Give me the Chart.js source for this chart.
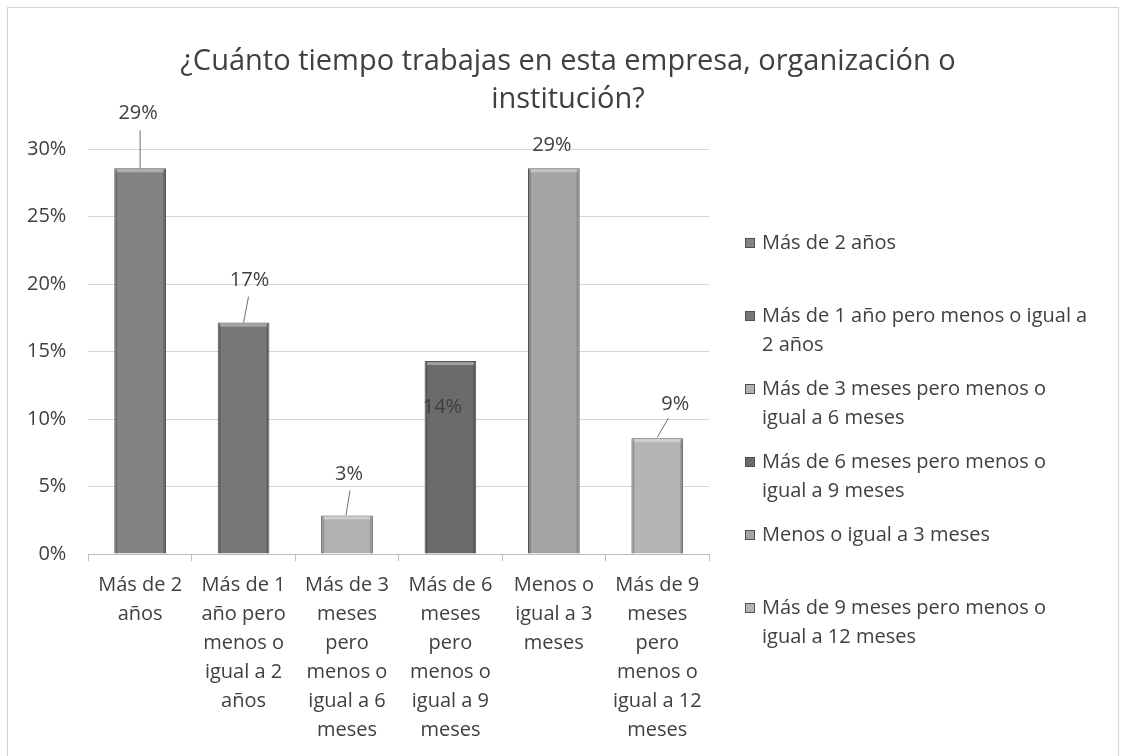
<!DOCTYPE html>
<html lang="es">
<head>
<meta charset="utf-8">
<title>¿Cuánto tiempo trabajas en esta empresa?</title>
<script src="https://cdn.jsdelivr.net/npm/chart.js@4/dist/chart.umd.min.js"></script>
<style>
  html, body { margin: 0; padding: 0; background: #ffffff; }
  #wrap { width: 1126px; height: 756px; }
</style>
</head>
<body>
<div id="wrap"><canvas id="chart" width="1126" height="756"></canvas></div>
<script>
// categories (axis labels, already wrapped like the original)
const categories = [
    ['Más de 2', 'años'],
    ['Más de 1', 'año pero', 'menos o', 'igual a 2', 'años'],
    ['Más de 3', 'meses', 'pero', 'menos o', 'igual a 6', 'meses'],
    ['Más de 6', 'meses', 'pero', 'menos o', 'igual a 9', 'meses'],
    ['Menos o', 'igual a 3', 'meses'],
    ['Más de 9', 'meses', 'pero', 'menos o', 'igual a 12', 'meses']
];

// legend entries, wrapped like the original legend
const legendNames = [
    ['Más de 2 años'],
    ['Más de 1 año pero menos o igual a', '2 años'],
    ['Más de 3 meses pero menos o', 'igual a 6 meses'],
    ['Más de 6 meses pero menos o', 'igual a 9 meses'],
    ['Menos o igual a 3 meses'],
    ['Más de 9 meses pero menos o', 'igual a 12 meses']
];

const titleLines = ['¿Cuánto tiempo trabajas en esta empresa, organización o', 'institución?'];

// share of respondents, in percent
const values = [28.57, 17.14, 2.86, 14.29, 28.57, 8.57];
const valueLabels = ['29%', '17%', '3%', '14%', '29%', '9%'];

const yMin = 0;
const yMax = 30;
const yStep = 5;

// grey shades of the scanned bars
const barColors = ['#838383', '#777777', '#b2b2b2', '#6b6b6b', '#a4a4a4', '#b4b4b4'];

// where each data label was dragged to, relative to the bar top centre
// lead: leader line start (relative) -> end (relative), null when none
const labelMoves = [
    { dx: -2, dy: -55, lead: [0, -38, 0, 0] },
    { dx: 6,  dy: -42, lead: [5, -26, 0, 0] },
    { dx: 2,  dy: -41, lead: [3, -25, -1, 0] },
    { dx: -8, dy: 46,  lead: null },
    { dx: -2, dy: -23, lead: null },
    { dx: 18, dy: -34, lead: [11, -20, 0, -1] }
];

const FONT = "'Open Sans', 'Noto Sans', sans-serif";
const TEXT = '#404040';

const frame = {
    id: 'frame',
    beforeDraw(chart) {
        const ctx = chart.ctx;
        ctx.save();
        ctx.fillStyle = '#ffffff';
        ctx.fillRect(0, 0, chart.width, chart.height);
        ctx.strokeStyle = '#d4d4d4';
        ctx.lineWidth = 1;
        ctx.strokeRect(7.5, 7.5, chart.width - 15, chart.height + 10);
        ctx.restore();
    }
};

// title centred on the whole chart, not just the plot
const wideTitle = {
    id: 'wideTitle',
    afterDraw(chart) {
        const ctx = chart.ctx;
        ctx.save();
        ctx.font = '29px ' + FONT;
        ctx.fillStyle = TEXT;
        ctx.textAlign = 'center';
        ctx.textBaseline = 'middle';
        titleLines.forEach((t, i) => ctx.fillText(t, chart.width / 2 + 5, 62 + i * 38));
        ctx.restore();
    }
};

// light bevel on the bar tops, like the Excel shape effect
const bevel = {
    id: 'bevel',
    afterDatasetsDraw(chart) {
        const ctx = chart.ctx;
        ctx.save();
        chart.getDatasetMeta(0).data.forEach(bar => {
            const half = bar.width / 2;
            ctx.fillStyle = 'rgba(255,255,255,0.35)';
            ctx.fillRect(bar.x - half + 2, bar.y + 1, bar.width - 4, 3);
            ctx.fillStyle = 'rgba(0,0,0,0.18)';
            ctx.fillRect(bar.x - half + 1, bar.y + 1, 2, bar.base - bar.y - 1);
            ctx.fillRect(bar.x + half - 3, bar.y + 1, 2, bar.base - bar.y - 1);
        });
        ctx.restore();
    }
};

const barLabels = {
    id: 'barLabels',
    afterDatasetsDraw(chart) {
        const ctx = chart.ctx;
        const meta = chart.getDatasetMeta(0);
        ctx.save();
        ctx.font = '20px ' + FONT;
        ctx.fillStyle = TEXT;
        ctx.textAlign = 'center';
        ctx.textBaseline = 'middle';
        meta.data.forEach((bar, i) => {
            const m = labelMoves[i];
            if (m.lead) {
                ctx.strokeStyle = '#707070';
                ctx.lineWidth = 1;
                ctx.beginPath();
                ctx.moveTo(bar.x + m.lead[0], bar.y + m.lead[1]);
                ctx.lineTo(bar.x + m.lead[2], bar.y + m.lead[3]);
                ctx.stroke();
            }
            ctx.fillText(valueLabels[i], bar.x + m.dx, bar.y + m.dy);
        });
        ctx.restore();
    }
};

const sideLegend = {
    id: 'sideLegend',
    afterDraw(chart) {
        const ctx = chart.ctx;
        const left = chart.chartArea.right + 36;
        const top = 243;
        const step = 73;
        const lineH = 29;
        ctx.save();
        ctx.font = '20px ' + FONT;
        ctx.textBaseline = 'middle';
        ctx.textAlign = 'left';
        legendNames.forEach((lines, i) => {
            const y = top + i * step;
            ctx.fillStyle = barColors[i];
            ctx.fillRect(left, y - 5, 10, 10);
            ctx.strokeStyle = '#505050';
            ctx.strokeRect(left + 0.5, y - 4.5, 9, 9);
            ctx.fillStyle = TEXT;
            lines.forEach((t, j) => ctx.fillText(t, left + 17, y + j * lineH));
        });
        ctx.restore();
    }
};

new Chart(document.getElementById('chart'), {
    type: 'bar',
    data: {
        labels: categories,
        datasets: [{
            label: 'Tiempo en la organización',
            data: values,
            backgroundColor: barColors,
            borderColor: '#555555',
            borderWidth: 1,
            barPercentage: 0.5,
            categoryPercentage: 1.0
        }]
    },
    options: {
        responsive: false,
        animation: false,
        layout: { padding: { left: 5, right: 417, top: 149, bottom: 1 } },
        plugins: {
            legend: { display: false },
            tooltip: { enabled: false },
            title: { display: false }
        },
        scales: {
            x: {
                offset: true,
                grid: { display: true, drawOnChartArea: false, offset: true, color: '#bdbdbd', tickLength: 7 },
                border: { color: '#bdbdbd' },
                ticks: {
                    color: TEXT,
                    autoSkip: false,
                    maxRotation: 0,
                    padding: 10,
                    font: { family: FONT, size: 20, lineHeight: 1.45 }
                }
            },
            y: {
                min: yMin,
                max: yMax,
                grid: { color: '#d6d6d6', drawTicks: false },
                border: { display: false },
                ticks: {
                    stepSize: yStep,
                    color: TEXT,
                    padding: 22,
                    font: { family: FONT, size: 20 },
                    callback: v => v + '%'
                }
            }
        }
    },
    plugins: [frame, wideTitle, bevel, barLabels, sideLegend]
});
</script>
</body>
</html>
